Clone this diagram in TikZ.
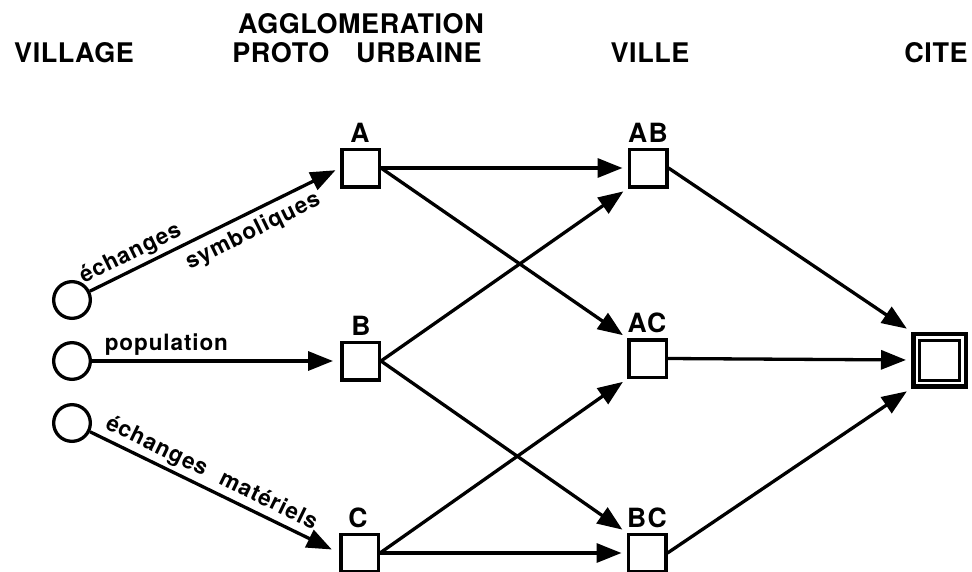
\documentclass[tikz,border=0pt]{standalone}
\usepackage{fontspec}
\setmainfont{TeX Gyre Heros}
\usetikzlibrary{arrows.meta}
\begin{document}
\begin{tikzpicture}[x=1pt,y=-1pt,
  hdr/.style={font=\fontsize{27}{29}\selectfont\bfseries\addfontfeature{LetterSpace=2}, inner sep=0pt},
  lbl/.style={font=\fontsize{26.5}{28}\selectfont\bfseries\addfontfeature{LetterSpace=5}, inner sep=0pt},
  elbl/.style={font=\fontsize{22.5}{24}\selectfont\bfseries\addfontfeature{LetterSpace=4}, inner sep=1pt},
  sq/.style={draw, line width=3.5pt, minimum size=37.5pt, inner sep=0pt},
  circ/.style={draw, circle, line width=3.3pt, minimum size=36.7pt, inner sep=0pt},
  arr/.style={line width=3.3pt, -{Triangle[length=25pt,width=19pt]}, shorten >=5pt}
]
\useasboundingbox (0,0) rectangle (972,571);

% headers
\node[hdr, anchor=base] (h1) at (74,62) {VILLAGE};
\node[hdr, anchor=base] (h2a) at (361,33) {AGGLOMERATION};
\node[hdr, anchor=base] (h2b) at (357,62) {PROTO\hspace{0.7em} URBAINE};
\node[hdr, anchor=base] (h3) at (650,62) {VILLE};
\node[hdr, anchor=base] (h4) at (936,62) {CITE};

% circles
\node[circ] (c1) at (72,300) {};
\node[circ] (c2) at (72,361) {};
\node[circ] (c3) at (72,423) {};

% squares
\node[sq] (A) at (360.5,168) {};
\node[sq] (B) at (360.5,361) {};
\node[sq] (C) at (359.5,553) {};
\node[sq] (AB) at (648,168) {};
\node[sq] (AC) at (647.5,358.5) {};
\node[sq] (BC) at (647,553) {};
\node[draw, line width=4.5pt, minimum size=52.5pt, inner sep=0pt] (CITE) at (939.5,360) {};
\node[draw, line width=3pt, minimum size=40pt, inner sep=0pt] (CITEin) at (939.5,360) {};

% square labels
\node[lbl, anchor=base] (Al) at (360,142) {A};
\node[lbl, anchor=base] (Bl) at (361,335) {B};
\node[lbl, anchor=base] (Cl) at (358,527) {C};
\node[lbl, anchor=base] (ABl) at (648,142) {AB};
\node[lbl, anchor=base] (ACl) at (647,332) {AC};
\node[lbl, anchor=base] (BCl) at (647,527) {BC};

% arrows from villages
\draw[arr] (c1) -- (A.west)
  node[elbl, sloped, pos=0.19, above=2pt] (l1) {échanges}
  node[elbl, sloped, pos=0.62, below=5pt] (l2) {symboliques};
\draw[arr, shorten >=7pt] (c2) -- (B.west)
  node[elbl, pos=0.30, above=3pt] (l3) {population};
\draw[arr, shorten >=8pt] (c3) -- (C.west)
  node[elbl, sloped, pos=0.46, above=2pt] (l4) {échanges\hspace{0.4em} matériels};

% proto-urban to ville
\draw[arr] (A.east) -- (AB.west);
\draw[arr] (A.east) -- (AC.north west);
\draw[arr] (B.east) -- (AB.south west);
\draw[arr] (B.east) -- (BC.north west);
\draw[arr] (C.east) -- (AC.south west);
\draw[arr] (C.east) -- (BC.west);

% ville to cite
\draw[arr] (AB.east) -- (CITE.north west);
\draw[arr] (AC.east) -- (CITE.west);
\draw[arr] (BC.east) -- (CITE.south west);
\end{tikzpicture}
\end{document}
